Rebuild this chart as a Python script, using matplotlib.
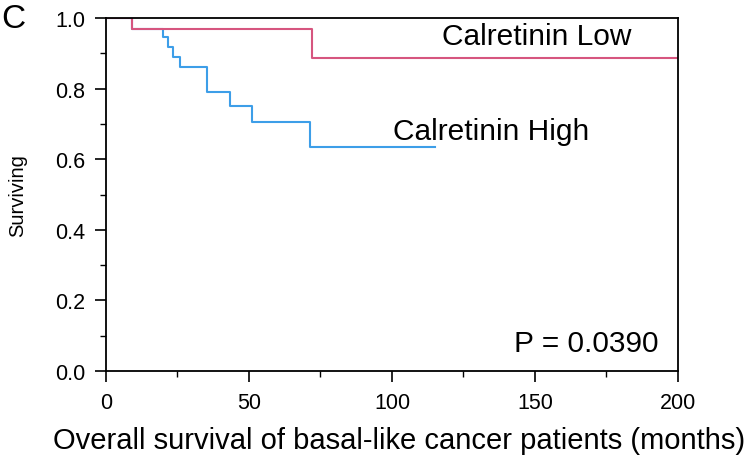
import matplotlib
matplotlib.use("Agg")
import matplotlib.pyplot as plt
from matplotlib.ticker import MultipleLocator, FormatStrFormatter

plt.rcParams['font.family'] = ['Liberation Sans', 'DejaVu Sans']

# Kaplan-Meier step points (months, surviving fraction)
low_t = [0, 9, 72, 200]
low_s = [1.0, 0.969, 0.886, 0.886]

high_t = [0, 9, 20, 21.8, 23.5, 26, 35.3, 43.5, 51.2, 71.4, 115]
high_s = [1.0, 0.969, 0.947, 0.919, 0.890, 0.860, 0.791, 0.750, 0.705, 0.635, 0.635]

low_color = '#d6557f'
high_color = '#3d9ee8'

fig = plt.figure(figsize=(7.5, 4.6), dpi=100)
ax = fig.add_axes([0.1413, 0.1913, 0.7627, 0.7674])

ax.step(high_t, high_s, where='post', color=high_color, lw=1.5)
ax.step(low_t, low_s, where='post', color=low_color, lw=1.5)

ax.set_xlim(0, 200)
ax.set_ylim(0, 1.0)
ax.xaxis.set_major_locator(MultipleLocator(50))
ax.xaxis.set_minor_locator(MultipleLocator(25))
ax.yaxis.set_major_locator(MultipleLocator(0.2))
ax.yaxis.set_minor_locator(MultipleLocator(0.1))
ax.yaxis.set_major_formatter(FormatStrFormatter('%.1f'))
ax.tick_params(which='major', direction='out', length=8, width=1.2, labelsize=15.5)
ax.tick_params(axis='x', which='major', pad=7)
ax.tick_params(axis='y', which='major', pad=7)
ax.tick_params(which='minor', direction='out', length=4, width=1.0)
for sp in ax.spines.values():
    sp.set_linewidth(1.3)

ax.set_xlabel('Overall survival of basal-like cancer patients (months)', fontsize=21)
ax.xaxis.set_label_coords(0.512, -0.155)
ax.set_ylabel('Surviving', fontsize=14.5, labelpad=20)

ax.text(150.5, 0.926, 'Calretinin Low', fontsize=21.5, ha='center', va='baseline')
ax.text(134.5, 0.657, 'Calretinin High', fontsize=21.5, ha='center', va='baseline')
ax.text(168, 0.0575, 'P = 0.0390', fontsize=21.5, ha='center', va='baseline')

fig.text(0.002, 0.94, 'C', fontsize=24, ha='left', va='baseline')

fig.savefig('out.png', dpi=100)
